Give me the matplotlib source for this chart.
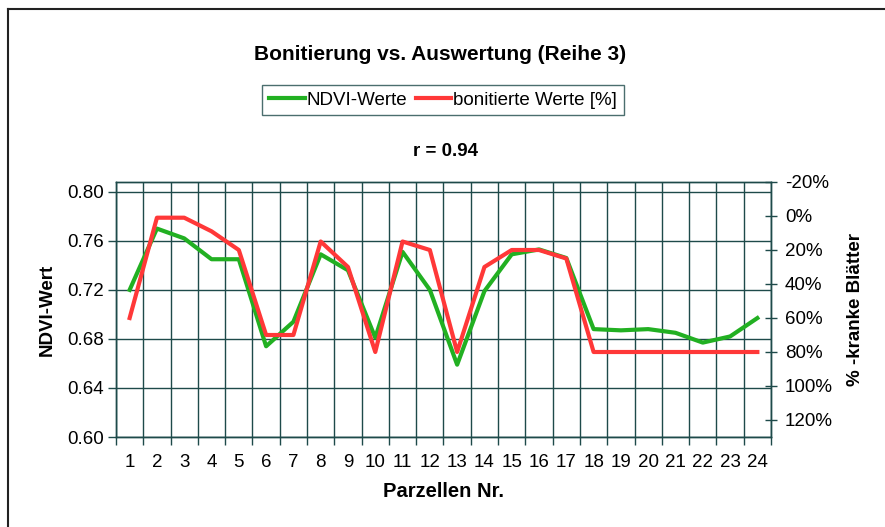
import matplotlib
matplotlib.use("Agg")
import matplotlib.pyplot as plt
from matplotlib.lines import Line2D
from matplotlib.ticker import FixedLocator, FuncFormatter

plt.rcParams["font.family"] = ["Liberation Sans", "DejaVu Sans"]

parzellen = list(range(1, 25))
ndvi = [0.720, 0.770, 0.762, 0.745, 0.745, 0.674, 0.694, 0.749, 0.736, 0.681,
        0.751, 0.720, 0.659, 0.719, 0.749, 0.753, 0.746, 0.688, 0.687, 0.688,
        0.685, 0.677, 0.682, 0.697]
bonitiert = [60, 1, 1, 9, 20, 70, 70, 15, 30, 80, 15, 20, 80, 30, 20, 20, 25,
             80, 80, 80, 80, 80, 80, 80]
left_ticks = [0.60, 0.64, 0.68, 0.72, 0.76, 0.80]
right_ticks = [-20, 0, 20, 40, 60, 80, 100, 120]

grid_col = "#1e4a4a"
green = "#22b022"
red = "#ff3838"

fig = plt.figure(figsize=(8.85, 5.27), dpi=100)
ax = fig.add_axes([116 / 885, 1 - 437 / 527, 655 / 885, 255 / 527])
ax2 = ax.twinx()

ax.set_xlim(0.5, 24.5)
ax.set_ylim(0.60, 0.808)
ax2.set_ylim(130, -20)

# category boundaries as grid / ticks
ax.xaxis.set_major_locator(FixedLocator([p - 0.5 for p in parzellen] + [24.5]))
ax.xaxis.set_major_formatter(FuncFormatter(lambda v, p: ""))
ax.xaxis.set_minor_locator(FixedLocator(parzellen))
ax.set_xticklabels([str(p) for p in parzellen], minor=True)
ax.tick_params(axis="x", which="major", length=6, color=grid_col, width=1)
ax.tick_params(axis="x", which="minor", length=0, pad=12, labelsize=13.5)
ax.grid(True, axis="x", which="major", color=grid_col, lw=1)

ax.set_yticks(left_ticks)
ax.yaxis.set_major_formatter(FuncFormatter(lambda v, p: f"{v:.2f}"))
ax.tick_params(axis="y", length=6, color=grid_col, width=1, labelsize=13.5, pad=3)
ax.grid(True, axis="y", color=grid_col, lw=1)

ax2.set_yticks(right_ticks)
ax2.yaxis.set_major_formatter(FuncFormatter(lambda v, p: f"{v:.0f}%"))
ax2.tick_params(axis="y", direction="inout", length=8, color=grid_col,
                width=1, labelsize=13.5, pad=6)

for a in (ax, ax2):
    for s in a.spines.values():
        s.set_color(grid_col)
        s.set_linewidth(1)

ax.plot(parzellen, ndvi, color=green, lw=3, zorder=3)
ax2.plot(parzellen, bonitiert, color=red, lw=3, zorder=4)
ax.set_axisbelow(True)

ax.set_xlabel("Parzellen Nr.", fontsize=14.5, fontweight="bold", labelpad=8)
ax.set_ylabel("NDVI-Wert", fontsize=13.5, fontweight="bold", labelpad=8)
ax2.set_ylabel("% -kranke Blätter", fontsize=13.5, fontweight="bold", labelpad=10)

fig.text(0.497, 1 - 55 / 527, "Bonitierung vs. Auswertung (Reihe 3)",
         ha="center", va="center", fontsize=15, fontweight="bold")
fig.text(0.503, 1 - 151 / 527, "r = 0.94", ha="center", va="center",
         fontsize=13.5, fontweight="bold")

handles = [Line2D([], [], color=green, lw=3), Line2D([], [], color=red, lw=3)]
leg = fig.legend(handles, ["NDVI-Werte", "bonitierte Werte [%]"],
                 loc="center", bbox_to_anchor=(443 / 885, 1 - 100 / 527),
                 ncol=2, fontsize=13.5, frameon=True, fancybox=False,
                 handlelength=1.9, handletextpad=0.1, columnspacing=0.45,
                 borderpad=0.35, borderaxespad=0)
leg.get_frame().set_edgecolor(grid_col)
leg.get_frame().set_linewidth(1)

# frame only on the left and top edge, as in the scan
fig.add_artist(Line2D([8 / 885, 8 / 885], [0, 1 - 9 / 527],
                      transform=fig.transFigure, color="#222222", lw=1.5))
fig.add_artist(Line2D([8 / 885, 1], [1 - 9 / 527, 1 - 9 / 527],
                      transform=fig.transFigure, color="#222222", lw=1.5))

fig.savefig("out.png", dpi=100)
